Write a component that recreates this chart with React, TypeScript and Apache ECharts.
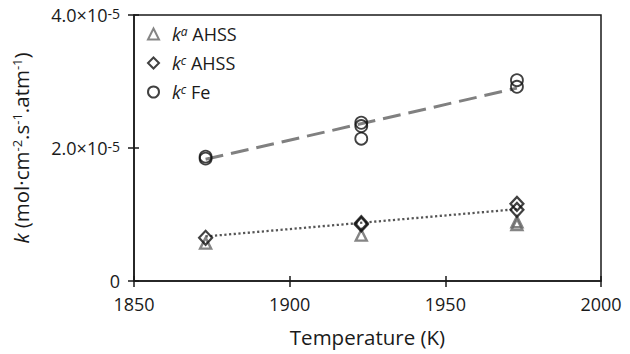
import React, { useEffect, useRef } from "react";
import * as echarts from "echarts";

const xTicks = [1850, 1900, 1950, 2000];
const kaAHSS: [number, number][] = [
  [1873, 0.57e-5],
  [1923, 0.69e-5],
  [1973, 0.85e-5],
  [1973, 0.89e-5],
];
const kcAHSS: [number, number][] = [
  [1873, 0.65e-5],
  [1923, 0.85e-5],
  [1923, 0.87e-5],
  [1973, 1.07e-5],
  [1973, 1.16e-5],
];
const kcFe: [number, number][] = [
  [1873, 1.84e-5],
  [1873, 1.87e-5],
  [1923, 2.14e-5],
  [1923, 2.33e-5],
  [1923, 2.38e-5],
  [1973, 2.92e-5],
  [1973, 3.02e-5],
];
const fitFe: [number, number][] = [
  [1873, 1.83e-5],
  [1973, 2.9e-5],
];
const fitAHSS: [number, number][] = [
  [1873, 0.67e-5],
  [1973, 1.08e-5],
];

const FONT = "'Open Sans', sans-serif";
const TXT = "#1a1a1a";

export default function App() {
  const ref = useRef<HTMLDivElement>(null);
  useEffect(() => {
    if (!ref.current) return;
    const chart = echarts.init(ref.current, null, { renderer: "svg" });
    const supRich = {
      n: { fontSize: 18, color: TXT, fontFamily: FONT, verticalAlign: "bottom" as const },
      s: { fontSize: 14, color: TXT, fontFamily: FONT, verticalAlign: "top" as const },
    };
    chart.setOption({
      animation: false,
      backgroundColor: "#ffffff",
      grid: {
        left: 134,
        right: 29,
        top: 15,
        bottom: 73,
        show: true,
        borderColor: "#1a1a1a",
        borderWidth: 1.5,
        backgroundColor: "transparent",
      },
      legend: {
        orient: "vertical",
        left: 142,
        top: 20,
        itemWidth: 11,
        itemHeight: 11,
        itemGap: 11,
        data: ["ka AHSS", "kc AHSS", "kc Fe"],
        formatter: (name: string) => {
          const parts = name.split(" ");
          const sup = parts[0].slice(1);
          return `{i|k}{si|${sup}}{t| ${parts.slice(1).join(" ")}}`;
        },
        textStyle: {
          rich: {
            i: { fontSize: 18, fontStyle: "italic", color: TXT, fontFamily: FONT, padding: [0, 0, 0, 8], verticalAlign: "bottom" },
            si: { fontSize: 12, fontStyle: "italic", color: TXT, fontFamily: FONT, verticalAlign: "top" },
            t: { fontSize: 18, color: TXT, fontFamily: FONT, verticalAlign: "bottom" },
          },
        },
      },
      xAxis: [
        {
          type: "value",
          min: xTicks[0],
          max: xTicks[xTicks.length - 1],
          interval: 50,
          name: "Temperature (K)",
          nameLocation: "middle",
          nameGap: 45,
          nameTextStyle: { fontSize: 20.5, color: TXT, fontFamily: FONT },
          axisLine: { show: true, lineStyle: { color: "#1a1a1a", width: 1.5 } },
          axisTick: { show: true, length: 6, lineStyle: { color: "#1a1a1a", width: 1.5 } },
          axisLabel: { fontSize: 18, color: TXT, fontFamily: FONT, margin: 14, formatter: (v: number) => String(v) },
          splitLine: { show: false },
        },
        {
          type: "value",
          min: xTicks[0],
          max: xTicks[xTicks.length - 1],
          interval: 50,
          position: "bottom",
          axisLine: { show: false },
          axisTick: { show: true, inside: true, length: 5, lineStyle: { color: "#1a1a1a", width: 1.5 } },
          axisLabel: { show: false },
          splitLine: { show: false },
        },
      ],
      yAxis: [
        {
          type: "value",
          min: 0,
          max: 4e-5,
          interval: 2e-5,
          name: "{i|k}{n| (mol·cm}{s|-2}{n|.s}{s|-1}{n|.atm}{s|-1}{n|)}",
          nameLocation: "middle",
          nameGap: 103,
          nameRotate: 90,
          nameTextStyle: {
            rich: {
              i: { fontSize: 20.5, fontStyle: "italic", color: TXT, fontFamily: FONT, verticalAlign: "bottom" },
              n: { fontSize: 20.5, color: TXT, fontFamily: FONT, verticalAlign: "bottom" },
              s: { fontSize: 13, color: TXT, fontFamily: FONT, verticalAlign: "top" },
            },
          },
          axisLine: { show: true, lineStyle: { color: "#1a1a1a", width: 1.5 } },
          axisTick: { show: true, length: 6, lineStyle: { color: "#1a1a1a", width: 1.5 } },
          axisLabel: {
            margin: 14,
            formatter: (v: number) => {
              if (Math.abs(v) < 1e-12) return "{n|0}";
              return `{n|${(v / 1e-5).toFixed(1)}×10}{s|-5}`;
            },
            rich: supRich,
          },
          splitLine: { show: false },
        },
        {
          type: "value",
          min: 0,
          max: 4e-5,
          interval: 2e-5,
          position: "left",
          axisLine: { show: false },
          axisTick: { show: true, inside: true, length: 5, lineStyle: { color: "#1a1a1a", width: 1.5 } },
          axisLabel: { show: false },
          splitLine: { show: false },
        },
      ],
      series: [
        {
          type: "line",
          data: fitFe,
          symbol: "none",
          lineStyle: { color: "#808080", width: 3, type: [18, 8] },
          z: 1,
          silent: true,
        },
        {
          type: "line",
          data: fitAHSS,
          symbol: "none",
          lineStyle: { color: "#555555", width: 2.3, type: [2.2, 2.5] },
          z: 1,
          silent: true,
        },
        {
          name: "ka AHSS",
          type: "scatter",
          data: kaAHSS,
          symbol: "triangle",
          symbolSize: 11,
          itemStyle: { color: "transparent", borderColor: "#666666", borderWidth: 2.4 },
          z: 2,
        },
        {
          name: "kc AHSS",
          type: "scatter",
          data: kcAHSS,
          symbol: "diamond",
          symbolSize: [13, 14],
          itemStyle: { color: "transparent", borderColor: "#111111", borderWidth: 2.2 },
          z: 3,
        },
        {
          name: "kc Fe",
          type: "scatter",
          data: kcFe,
          symbol: "circle",
          symbolSize: 12,
          itemStyle: { color: "transparent", borderColor: "#111111", borderWidth: 1.8 },
          z: 3,
        },
      ],
    });
    return () => chart.dispose();
  }, []);
  return <div ref={ref} style={{ width: 630, height: 354, position: "absolute", left: 0, top: 0 }} />;
}
